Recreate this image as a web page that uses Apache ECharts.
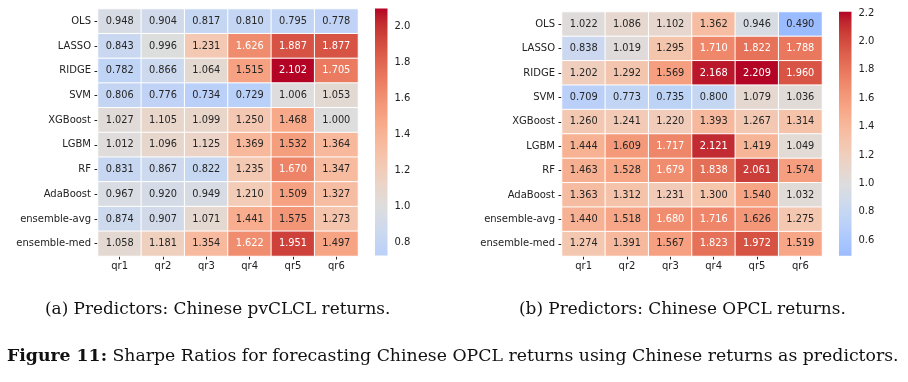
<!DOCTYPE html>
<html>
<head>
<meta charset="utf-8">
<script src="https://cdn.jsdelivr.net/npm/echarts@6/dist/echarts.min.js"></script>
<style>
html,body{margin:0;padding:0;background:#fff;}
#c{width:908px;height:382px;}
</style>
</head>
<body>
<div id="c"></div>
<script>
// ---------------- data ----------------
const models = ['OLS','LASSO','RIDGE','SVM','XGBoost','LGBM','RF','AdaBoost','ensemble-avg','ensemble-med'];
const quantiles = ['qr1','qr2','qr3','qr4','qr5','qr6'];

const pvclclOLS        = [0.948, 0.904, 0.817, 0.810, 0.795, 0.778];
const pvclclLASSO      = [0.843, 0.996, 1.231, 1.626, 1.887, 1.877];
const pvclclRIDGE      = [0.782, 0.866, 1.064, 1.515, 2.102, 1.705];
const pvclclSVM        = [0.806, 0.776, 0.734, 0.729, 1.006, 1.053];
const pvclclXGBoost    = [1.027, 1.105, 1.099, 1.250, 1.468, 1.000];
const pvclclLGBM       = [1.012, 1.096, 1.125, 1.369, 1.532, 1.364];
const pvclclRF         = [0.831, 0.867, 0.822, 1.235, 1.670, 1.347];
const pvclclAdaBoost   = [0.967, 0.920, 0.949, 1.210, 1.509, 1.327];
const pvclclEnsAvg     = [0.874, 0.907, 1.071, 1.441, 1.575, 1.273];
const pvclclEnsMed     = [1.058, 1.181, 1.354, 1.622, 1.951, 1.497];

const opclOLS          = [1.022, 1.086, 1.102, 1.362, 0.946, 0.490];
const opclLASSO        = [0.838, 1.019, 1.295, 1.710, 1.822, 1.788];
const opclRIDGE        = [1.202, 1.292, 1.569, 2.168, 2.209, 1.960];
const opclSVM          = [0.709, 0.773, 0.735, 0.800, 1.079, 1.036];
const opclXGBoost      = [1.260, 1.241, 1.220, 1.393, 1.267, 1.314];
const opclLGBM         = [1.444, 1.609, 1.717, 2.121, 1.419, 1.049];
const opclRF           = [1.463, 1.528, 1.679, 1.838, 2.061, 1.574];
const opclAdaBoost     = [1.363, 1.312, 1.231, 1.300, 1.540, 1.032];
const opclEnsAvg       = [1.440, 1.518, 1.680, 1.716, 1.626, 1.275];
const opclEnsMed       = [1.274, 1.391, 1.567, 1.823, 1.972, 1.519];

const colorbarTicksA = [0.8, 1.0, 1.2, 1.4, 1.6, 1.8, 2.0];
const colorbarTicksB = [0.6, 0.8, 1.0, 1.2, 1.4, 1.6, 1.8, 2.0, 2.2];
const colorCenter = 1.0;

const captionA = '(a) Predictors: Chinese pvCLCL returns.';
const captionB = '(b) Predictors: Chinese OPCL returns.';
const figLabel = 'Figure 11:';
const figText = 'Sharpe Ratios for forecasting Chinese OPCL returns using Chinese returns as predictors.';

const matA = [pvclclOLS,pvclclLASSO,pvclclRIDGE,pvclclSVM,pvclclXGBoost,pvclclLGBM,pvclclRF,pvclclAdaBoost,pvclclEnsAvg,pvclclEnsMed];
const matB = [opclOLS,opclLASSO,opclRIDGE,opclSVM,opclXGBoost,opclLGBM,opclRF,opclAdaBoost,opclEnsAvg,opclEnsMed];

// ---------------- coolwarm colormap (style) ----------------
const CW = [[59,76,192],[68,90,204],[77,104,215],[87,117,225],[98,130,234],[108,142,241],[119,154,247],[130,165,251],[141,176,254],[152,185,255],[163,194,255],[174,201,253],[184,208,249],[194,213,244],[204,217,238],[213,219,230],[221,221,221],[229,216,209],[236,211,197],[241,204,184],[245,196,172],[247,187,159],[247,177,147],[247,166,134],[244,154,123],[241,141,111],[236,127,99],[229,112,88],[222,96,77],[213,80,66],[203,62,56],[192,40,47],[180,4,38]];
function cwRGB(t){
  t = Math.max(0, Math.min(1, t));
  const f = t*(CW.length-1); const i = Math.min(CW.length-2, Math.floor(f)); const u = f-i;
  return [0,1,2].map(k => CW[i][k] + (CW[i+1][k]-CW[i][k])*u);
}
function rgbStr(c){ return 'rgb(' + c.map(v=>Math.round(v)).join(',') + ')'; }
function lum(c){
  const l = c.map(v => { v/=255; return v <= 0.03928 ? v/12.92 : Math.pow((v+0.055)/1.055, 2.4); });
  return 0.2126*l[0] + 0.7152*l[1] + 0.0722*l[2];
}

function buildMap(mat){
  const flat = mat.flat();
  const vmin = Math.min(...flat), vmax = Math.max(...flat);
  const r = Math.max(vmax-colorCenter, colorCenter-vmin);
  const lo = colorCenter - r, hi = colorCenter + r;
  const norm = v => (v-lo)/(hi-lo);
  const N = 48;
  const colors = [], stops = [];
  for (let i=0;i<=N;i++){
    const v = vmin + (vmax-vmin)*i/N;
    const c = rgbStr(cwRGB(norm(v)));
    colors.push(c); stops.push({offset:i/N, color:c});
  }
  const data = [];
  mat.forEach((row, ri) => row.forEach((v, ci) => {
    const c = cwRGB(norm(v));
    data.push({value:[ci, ri, v], label:{color: lum(c) > 0.408 ? '#262626' : '#ffffff'}});
  }));
  return {vmin, vmax, colors, stops, data};
}
const A = buildMap(matA), B = buildMap(matB);

const FONT = 'DejaVu Sans';
const SERIF = 'DejaVu Serif';
const chart = echarts.init(document.getElementById('c'), null, {renderer:'canvas'});

function heatAxes(gi){
  return {
    x: {type:'category', gridIndex:gi, data:quantiles, position:'bottom',
        axisLine:{show:false}, splitLine:{show:false},
        axisTick:{show:true, alignWithLabel:true, length:3.5, lineStyle:{color:'#222', width:1}},
        axisLabel:{fontFamily:FONT, fontSize:10, color:'#222', margin:5}},
    y: {type:'category', gridIndex:gi, data:models, inverse:true,
        axisLine:{show:false}, splitLine:{show:false},
        axisTick:{show:true, alignWithLabel:true, length:3.5, lineStyle:{color:'#222', width:1}},
        axisLabel:{fontFamily:FONT, fontSize:10, color:'#222', margin:7}}
  };
}
function cbarAxes(gi, M, ticks){
  return {
    x: {type:'value', gridIndex:gi, min:0, max:1, show:false},
    y: {type:'value', gridIndex:gi, min:M.vmin, max:M.vmax, position:'right',
        axisLine:{show:false}, splitLine:{show:false},
        axisTick:{show:true, inside:false, length:3.5, customValues:ticks, lineStyle:{color:'#222', width:1}},
        axisLabel:{show:true, customValues:ticks, formatter:v=>Number(v).toFixed(1), fontFamily:FONT, fontSize:10, color:'#222', margin:7}}
  };
}
const hA = heatAxes(0), cA = cbarAxes(1, A, colorbarTicksA), hB = heatAxes(2), cB = cbarAxes(3, B, colorbarTicksB);

function cbarSeries(xi, M){
  return {
    type:'custom', xAxisIndex:xi, yAxisIndex:xi, silent:true,
    data:[[0, M.vmin, M.vmax]],
    renderItem:function(params, api){
      const p0 = api.coord([0, api.value(1)]);
      const p1 = api.coord([1, api.value(2)]);
      return {type:'rect', shape:{x:p0[0], y:p1[1], width:p1[0]-p0[0], height:p0[1]-p1[1]},
              style:{fill:new echarts.graphic.LinearGradient(0,1,0,0, M.stops)}};
    }
  };
}
function heatSeries(xi, M){
  return {
    type:'heatmap', xAxisIndex:xi, yAxisIndex:xi, data:M.data,
    itemStyle:{borderColor:'#ffffff', borderWidth:1},
    label:{show:true, fontFamily:FONT, fontSize:9.8, formatter:p=>p.value[2].toFixed(3)},
    emphasis:{disabled:true}
  };
}

const option = {
  animation:false,
  backgroundColor:'#ffffff',
  title:[
    {text:captionA, left:45, top:301, padding:0, textStyle:{fontFamily:SERIF, fontSize:16.9, fontWeight:'normal', color:'#111'}},
    {text:captionB, left:519, top:301, padding:0, textStyle:{fontFamily:SERIF, fontSize:16.9, fontWeight:'normal', color:'#111'}},
    {text:'{b|'+figLabel+'} '+figText, left:7, top:348, padding:0,
     textStyle:{fontFamily:SERIF, fontSize:17.3, fontWeight:'normal', color:'#111',
       rich:{b:{fontFamily:SERIF, fontSize:17.3, fontWeight:'bold', color:'#111'}}}}
  ],
  grid:[
    {left:98, top:9, width:260, height:247},
    {left:375, top:8.5, width:12.5, height:247},
    {left:562, top:12, width:260, height:244},
    {left:839, top:11.7, width:12.5, height:244}
  ],
  xAxis:[hA.x, cA.x, hB.x, cB.x],
  yAxis:[hA.y, cA.y, hB.y, cB.y],
  visualMap:[
    {type:'continuous', show:false, seriesIndex:0, dimension:2, min:A.vmin, max:A.vmax, inRange:{color:A.colors}},
    {type:'continuous', show:false, seriesIndex:2, dimension:2, min:B.vmin, max:B.vmax, inRange:{color:B.colors}}
  ],
  series:[heatSeries(0, A), cbarSeries(1, A), heatSeries(2, B), cbarSeries(3, B)]
};
chart.setOption(option);
</script>
</body>
</html>
